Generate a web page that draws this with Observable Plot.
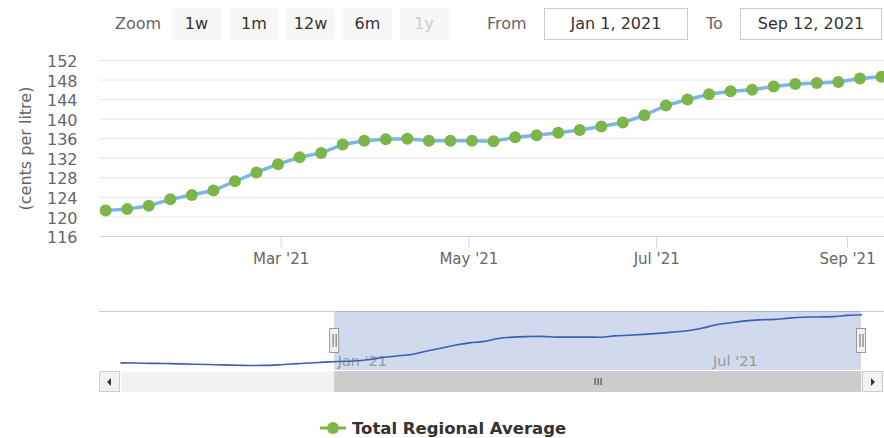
<!DOCTYPE html>
<html>
<head>
<meta charset="utf-8">
<script src="https://cdn.jsdelivr.net/npm/d3@7"></script>
<script src="https://cdn.jsdelivr.net/npm/@observablehq/plot@0.6"></script>
<style>
  html, body { margin: 0; padding: 0; background: #fff; }
  #chart { position: relative; width: 884px; height: 438px; font-family: "DejaVu Sans", sans-serif; overflow: hidden; }
  .abs { position: absolute; }
  .lbl { color: #666; font-size: 16px; line-height: 32px; top: 8px; }
  .btn { top: 8px; height: 32px; width: 49px; background: #f7f7f7; color: #333; font-size: 16px; line-height: 32px; text-align: center; }
  .btn.dis { color: #cccccc; }
  .box { top: 8px; height: 32px; border: 1px solid #cccccc; color: #333; font-size: 16px; line-height: 30px; text-align: center; box-sizing: border-box; }
  .sbtn { top: 371px; height: 21px; width: 21px; background: #f2f2f2; border: 1px solid #cccccc; box-sizing: border-box; }
  .tri { position: absolute; top: 6px; width: 0; height: 0; border-top: 4px solid transparent; border-bottom: 4px solid transparent; }
</style>
</head>
<body>
<div id="chart"></div>
<script>
// ---- data ----
const dates = [
  "2020-09-20","2020-09-27","2020-10-04","2020-10-11","2020-10-18","2020-10-25",
  "2020-11-01","2020-11-08","2020-11-15","2020-11-22","2020-11-29",
  "2020-12-06","2020-12-13","2020-12-20","2020-12-27",
  "2021-01-03","2021-01-10","2021-01-17","2021-01-24","2021-01-31",
  "2021-02-07","2021-02-14","2021-02-21","2021-02-28",
  "2021-03-07","2021-03-14","2021-03-21","2021-03-28",
  "2021-04-04","2021-04-11","2021-04-18","2021-04-25",
  "2021-05-02","2021-05-09","2021-05-16","2021-05-23","2021-05-30",
  "2021-06-06","2021-06-13","2021-06-20","2021-06-27",
  "2021-07-04","2021-07-11","2021-07-18","2021-07-25",
  "2021-08-01","2021-08-08","2021-08-15","2021-08-22","2021-08-29",
  "2021-09-05","2021-09-12"
];
const values = [
  120.5, 120.4, 120.2, 120.1, 119.9, 119.7,
  119.5, 119.3, 119.1, 118.9, 119.0,
  119.4, 119.9, 120.4, 120.9,
  121.3, 121.6, 122.3, 123.6, 124.5,
  125.4, 127.3, 129.1, 130.8,
  132.2, 133.1, 134.8, 135.6,
  135.9, 136.0, 135.6, 135.6,
  135.6, 135.5, 136.3, 136.7, 137.2,
  137.8, 138.5, 139.3, 140.8,
  142.8, 144.0, 145.1, 145.7,
  146.0, 146.7, 147.2, 147.4, 147.6,
  148.3, 148.7
];
const seriesName = "Total Regional Average";
const yTitle = "(cents per litre)";
const yTicks = [116, 120, 124, 128, 132, 136, 140, 144, 148, 152];
const xTickDates = ["2021-03-01", "2021-05-01", "2021-07-01", "2021-09-01"];
const navTickDates = ["2021-01-01", "2021-07-01"];
const viewRange = ["2021-01-01", "2021-09-12"];
const zoomButtons = ["1w", "1m", "12w", "6m", "1y"];
const fromLabel = "Jan 1, 2021";
const toLabel = "Sep 12, 2021";

// ---- derived tables ----
const all = dates.map((d, i) => ({date: new Date(d), value: values[i]}));
const v0 = new Date(viewRange[0]), v1 = new Date(viewRange[1]);
const visible = all.filter(d => d.date >= v0 && d.date <= v1);
const xTicks = xTickDates.map(d => new Date(d));
const navTicks = navTickDates.map(d => new Date(d));
const fmt = d3.utcFormat("%b '%y");

const chart = document.getElementById("chart");
const green = "#7cb548", blue = "#7cb5ec";

// ---- range selector (HTML) ----
function add(html) { chart.insertAdjacentHTML("beforeend", html); }
add(`<div class="abs lbl" style="left:115px">Zoom</div>`);
const btnLefts = [172, 229.5, 286, 343, 399.5];
zoomButtons.forEach((b, i) => add(`<div class="abs btn${b === "1y" ? " dis" : ""}" style="left:${btnLefts[i]}px">${b}</div>`));
add(`<div class="abs lbl" style="left:487px">From</div>`);
add(`<div class="abs box" style="left:544px;width:144px">${fromLabel}</div>`);
add(`<div class="abs lbl" style="left:706px">To</div>`);
add(`<div class="abs box" style="left:740px;width:142px">${toLabel}</div>`);

// ---- main chart ----
const main = Plot.plot({
  width: 884, height: 278,
  marginLeft: 99, marginRight: 0, marginTop: 60, marginBottom: 42,
  style: {background: "transparent", fontFamily: "DejaVu Sans", fontSize: "15px", color: "#666"},
  x: {type: "utc", domain: [new Date("2021-01-01"), new Date("2021-09-13")]},
  y: {domain: [116, 152]},
  marks: [
    Plot.gridY({ticks: yTicks, stroke: "#e6e6e6", strokeOpacity: 1}),
    Plot.axisY({ticks: yTicks, tickSize: 0, tickPadding: 22, label: null, fontSize: 16, dy: 1.5}),
    Plot.ruleY([116], {stroke: "#ccd6eb"}),
    Plot.axisX({ticks: xTicks, tickFormat: fmt, tickSize: 12, tickPadding: 5, stroke: "#ccd6eb", strokeOpacity: 1, label: null, fontSize: 15}),
    Plot.line(visible, {x: "date", y: "value", stroke: blue, strokeWidth: 3.5}),
    Plot.dot(visible, {x: "date", y: "value", r: 6, fill: green}),
    Plot.text([yTitle], {text: d => d, frameAnchor: "left", textAnchor: "middle", dx: -74, rotate: -90, fill: "#666", fontSize: 16})
  ]
});
main.style.position = "absolute"; main.style.left = "0px"; main.style.top = "0px";
chart.appendChild(main);

// ---- navigator ----
add(`<div class="abs" style="left:99px;top:310.5px;width:785px;height:1px;background:#cccccc"></div>`);
const sel = [{x1: v0, x2: v1}];
const nav = Plot.plot({
  width: 884, height: 100,
  marginLeft: 120.5, marginRight: 23, marginTop: 11, marginBottom: 30,
  style: {background: "transparent", fontFamily: "DejaVu Sans", fontSize: "14.5px", overflow: "visible"},
  x: {type: "utc", domain: [all[0].date, all[all.length - 1].date], axis: null},
  y: {domain: [116, 150.6], axis: null},
  marks: [
    Plot.rect(sel, {x1: "x1", x2: "x2", fill: "rgb(102,133,194)", fillOpacity: 0.3}),
    Plot.ruleX(navTicks, {stroke: "#d6dbe6"}),
    Plot.text(navTicks, {x: d => d, text: d => fmt(d), frameAnchor: "bottom", textAnchor: "start", lineAnchor: "bottom", dx: 3, dy: -5, fill: "#999"}),
    Plot.line(all, {x: "date", y: "value", stroke: "#3a5fb3", strokeWidth: 1.6, curve: "monotone-x"}),
    Plot.rect([v0, v1], {x1: d => d, x2: d => d, insetLeft: -4.5, insetRight: -4.5, insetTop: 17.5, insetBottom: 17.5, fill: "#f2f2f2", stroke: "#999"}),
    Plot.ruleX([v0, v1], {dx: -1.5, insetTop: 23, insetBottom: 23, stroke: "#666"}),
    Plot.ruleX([v0, v1], {dx: 1.5, insetTop: 23, insetBottom: 23, stroke: "#666"})
  ]
});
nav.style.position = "absolute"; nav.style.left = "0px"; nav.style.top = "300px";
chart.appendChild(nav);

// ---- scrollbar ----
const mid = new Date((v0.getTime() + v1.getTime()) / 2);
const scroll = Plot.plot({
  width: 884, height: 21,
  marginLeft: 120.5, marginRight: 23, marginTop: 0, marginBottom: 0,
  style: {background: "transparent"},
  x: {type: "utc", domain: [all[0].date, all[all.length - 1].date], axis: null},
  y: {axis: null},
  marks: [
    Plot.frame({fill: "#f2f2f2", stroke: null, insetRight: -2}),
    Plot.rect(sel, {x1: "x1", x2: "x2", fill: "#cccccc"}),
    Plot.ruleX([mid], {dx: -3, insetTop: 7, insetBottom: 7, stroke: "#333"}),
    Plot.ruleX([mid], {insetTop: 7, insetBottom: 7, stroke: "#333"}),
    Plot.ruleX([mid], {dx: 3, insetTop: 7, insetBottom: 7, stroke: "#333"})
  ]
});
scroll.style.position = "absolute"; scroll.style.left = "0px"; scroll.style.top = "371px";
chart.appendChild(scroll);
add(`<div class="abs sbtn" style="left:99px"><div class="tri" style="left:7px;border-right:4px solid #333"></div></div>`);
add(`<div class="abs sbtn" style="left:862px"><div class="tri" style="left:8px;border-left:4px solid #333"></div></div>`);

// ---- legend ----
add(`<div class="abs" style="left:318px;top:416px;height:24px;display:flex;align-items:center;">
  <svg width="30" height="24"><line x1="2" x2="28" y1="12" y2="12" stroke="${green}" stroke-width="3"/><circle cx="15" cy="12" r="6" fill="${green}"/></svg>
  <span style="margin-left:4px;font-weight:bold;font-size:16.5px;color:#333">${seriesName}</span></div>`);
</script>
</body>
</html>
